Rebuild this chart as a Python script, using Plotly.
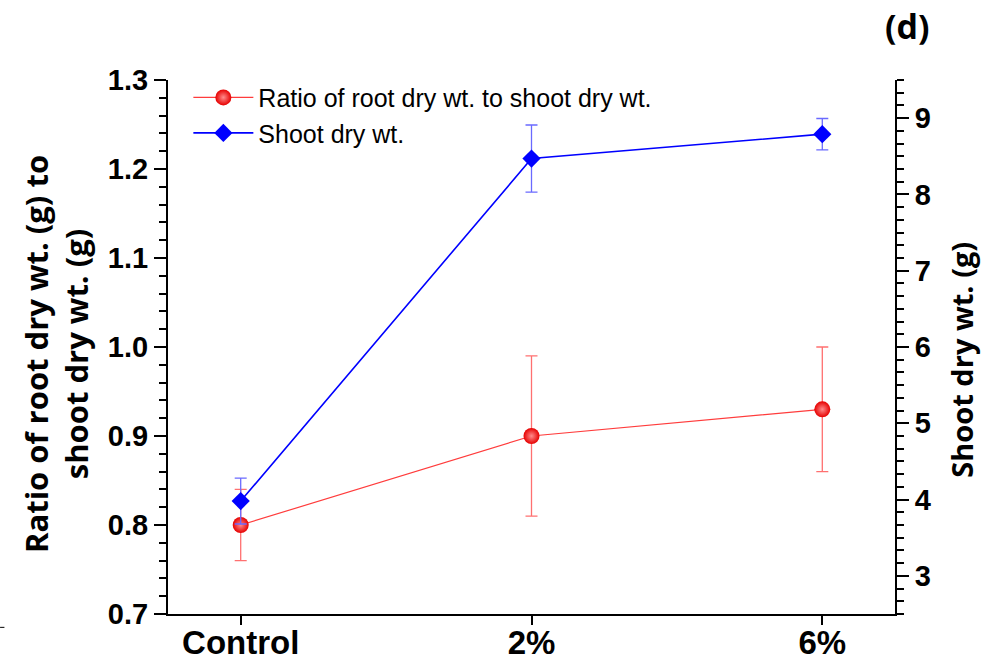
import plotly.graph_objects as go

# Treatments on the x axis
treatments = ["Control", "2%", "6%"]
xpos = [0, 1, 2]

# Ratio of root dry wt. to shoot dry wt. (left axis) with error
ratio = [0.80, 0.90, 0.93]
ratio_err = [0.04, 0.09, 0.07]

# Shoot dry wt. in g (right axis) with error
shoot = [3.98, 8.47, 8.79]
shoot_err = [0.30, 0.44, 0.205]

FONT = "Liberation Sans, Arial, sans-serif"
TITLE_FONT = "Open Sans, sans-serif"

fig = go.Figure()

fig.add_trace(go.Scatter(
    x=xpos, y=ratio, name="Ratio of root dry wt. to shoot dry wt.",
    mode="lines+markers",
    line=dict(color="#ff3c3c", width=1.2),
    marker=dict(symbol="circle", size=16, color="#e60000",
                gradient=dict(type="radial", color="#ff8c8c"),
                line=dict(width=0)),
    error_y=dict(type="data", array=ratio_err, visible=True,
                 color="#ff7070", thickness=1.3, width=6),
    yaxis="y",
))

fig.add_trace(go.Scatter(
    x=xpos, y=shoot, name="Shoot dry wt.",
    mode="lines+markers",
    line=dict(color="#0000ff", width=1.6),
    marker=dict(symbol="diamond", size=14, color="#0000ff",
                line=dict(width=0)),
    error_y=dict(type="data", array=shoot_err, visible=True,
                 color="#6a6aff", thickness=1.3, width=6),
    yaxis="y2",
))

ytickfont = dict(family=FONT, size=29, color="black", weight="bold")
xtickfont = dict(family=FONT, size=33, color="black", weight="bold")

fig.update_layout(
    width=996, height=667,
    margin=dict(l=168, r=101, t=80, b=53),
    paper_bgcolor="white", plot_bgcolor="white",
    showlegend=True,
    legend=dict(x=0.028, y=1.01, xanchor="left", yanchor="top",
                bgcolor="rgba(0,0,0,0)", itemwidth=60,
                font=dict(family=FONT, size=25, color="black"),
                tracegroupgap=0),
    xaxis=dict(
        range=[-0.25, 2.25], tickmode="array", tickvals=xpos, ticktext=treatments,
        showline=True, linecolor="black", linewidth=2, mirror=False,
        ticks="outside", ticklen=9, tickwidth=2, tickcolor="black",
        ticklabelstandoff=-11,
        showgrid=False, zeroline=False, tickfont=xtickfont, automargin=False,
    ),
    yaxis=dict(
        range=[0.7, 1.3], dtick=0.1, tickformat=".1f",
        showline=True, linecolor="black", linewidth=2,
        ticks="outside", ticklen=12, tickwidth=2, tickcolor="black",
        minor=dict(dtick=0.02, ticks="outside", ticklen=7, tickwidth=1.5,
                   tickcolor="black", showgrid=False),
        showgrid=False, zeroline=False, tickfont=ytickfont, automargin=False,
    ),
    yaxis2=dict(
        range=[2.5, 9.5], dtick=1, overlaying="y", side="right",
        showline=True, linecolor="black", linewidth=2,
        ticks="outside", ticklen=12, tickwidth=2, tickcolor="black",
        minor=dict(dtick=1/6, ticks="outside", ticklen=7, tickwidth=1.5,
                   tickcolor="black", showgrid=False),
        showgrid=False, zeroline=False, tickfont=ytickfont, automargin=False,
    ),
    annotations=[
        # axis titles
        dict(text="Ratio of root dry wt. (g) to<br>shoot dry wt. (g)",
             xref="paper", yref="paper", x=-0.154, y=0.487, textangle=-90,
             xanchor="center", yanchor="middle", showarrow=False,
             font=dict(family=TITLE_FONT, size=31, color="black", weight="bold")),
        dict(text="Shoot dry wt. (g)",
             xref="paper", yref="paper", x=1.092, y=0.476, textangle=-90,
             xanchor="center", yanchor="middle", showarrow=False,
             font=dict(family=TITLE_FONT, size=29, color="black", weight="bold")),
        # panel label
        dict(text="(d)", xref="paper", yref="paper", x=1.017, y=1.0,
             yshift=54, xanchor="center", yanchor="middle", showarrow=False,
             font=dict(family=TITLE_FONT, size=34, color="black", weight="bold")),
    ],
    shapes=[dict(type="line", xref="paper", yref="paper", x0=-0.231, x1=-0.225,
                 y0=-0.025, y1=-0.025, line=dict(color="black", width=1))],
)

fig.write_html("out.html")
